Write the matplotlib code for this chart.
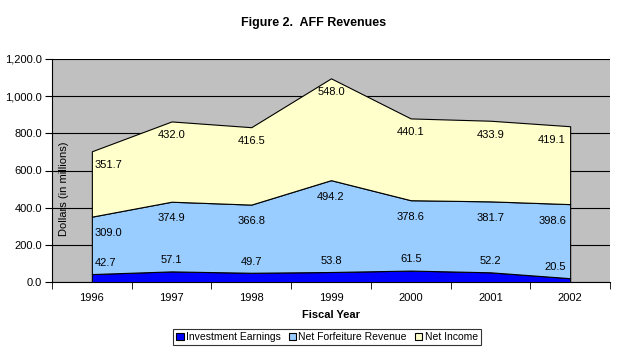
import matplotlib.pyplot as plt
import numpy as np
from matplotlib.ticker import FuncFormatter

years = ['1996', '1997', '1998', '1999', '2000', '2001', '2002']
investment = [42.7, 57.1, 49.7, 53.8, 61.5, 52.2, 20.5]
forfeiture = [309.0, 374.9, 366.8, 494.2, 378.6, 381.7, 398.6]
net_income = [351.7, 432.0, 416.5, 548.0, 440.1, 433.9, 419.1]

series_names = ['Investment Earnings', 'Net Forfeiture Revenue', 'Net Income']
colors = ['#0000FF', '#99CCFF', '#FFFFCC']

plt.rcParams['font.family'] = ['Liberation Sans', 'DejaVu Sans']

fig = plt.figure(figsize=(6.24, 3.59), dpi=100)
ax = fig.add_axes([52/624, 1-282/359, 558/624, 223/359])
ax.set_facecolor('#C0C0C0')

x = np.arange(len(years))
layers = [np.array(investment), np.array(forfeiture), np.array(net_income)]
polys = ax.stackplot(x, *layers, colors=colors, edgecolor='black', linewidth=0.8,
                     labels=series_names, zorder=3)

ax.set_xlim(-0.5, len(years) - 0.5)
ax.set_ylim(0, 1200)
ax.set_yticks(np.arange(0, 1201, 200))
ax.yaxis.set_major_formatter(FuncFormatter(lambda v, p: '{:,.1f}'.format(v)))
ax.yaxis.grid(True, color='black', linewidth=0.8, zorder=1)
ax.set_axisbelow(True)

ax.set_xticks(x)
ax.set_xticklabels(years)
ax.set_xticks(np.arange(-0.5, len(years), 1), minor=True)
ax.tick_params(axis='x', which='major', length=0, pad=8, labelsize=8)
ax.tick_params(axis='x', which='minor', length=5, direction='out', color='black')
ax.tick_params(axis='y', length=5, direction='out', labelsize=8, pad=2)

for s in ['top', 'right']:
    ax.spines[s].set_visible(False)
ax.spines['left'].set_linewidth(0.8)
ax.spines['bottom'].set_linewidth(0.8)

# data labels
cum = np.zeros(len(years))
for i, vals in enumerate(layers):
    cum = cum + vals
    for j, v in enumerate(vals):
        if j == 0:
            ha, dx = 'left', 2
        elif j == len(years) - 1:
            ha, dx = 'right', -3
        else:
            ha, dx = 'center', 0
        dy = 8 if i == 0 else (-12 if i == 1 else -10)
        ax.annotate('{:.1f}'.format(v), (x[j], cum[j]), xytext=(dx, dy),
                    textcoords='offset points', ha=ha, va='center',
                    fontsize=8, zorder=5)

ax.set_ylabel('Dollars (in millions)', fontsize=8)
ax.yaxis.set_label_coords(0.03, 0.42)
ax.set_xlabel('Fiscal Year', fontsize=8, fontweight='bold', labelpad=5)

fig.text(0.502, 1-23/359, 'Figure 2.  AFF Revenues', ha='center', va='center',
         fontsize=9, fontweight='bold')

leg = fig.legend(handles=polys, labels=series_names, loc='center',
                 bbox_to_anchor=(327/624, 1-337/359), ncol=3, fontsize=7.5,
                 frameon=True, fancybox=False, handlelength=0.7, handleheight=0.7,
                 handletextpad=0.2, columnspacing=0.8, borderpad=0.3)
leg.get_frame().set_edgecolor('black')
leg.get_frame().set_linewidth(0.8)

fig.savefig('out.png', dpi=100)
